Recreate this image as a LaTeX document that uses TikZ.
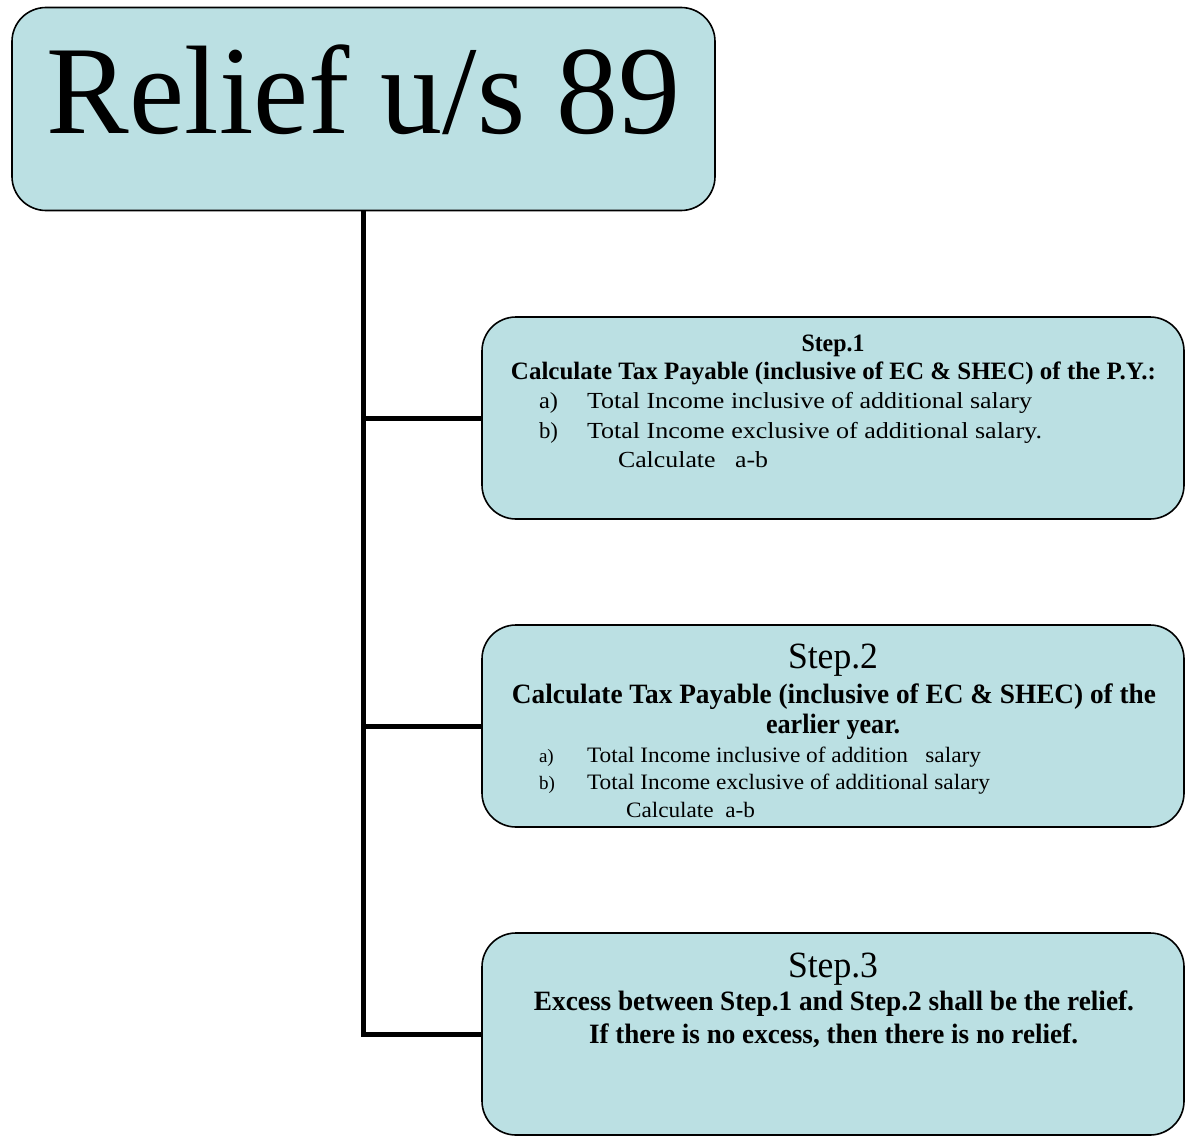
\documentclass[tikz,border=0pt]{standalone}
\usepackage{fontspec}
\setmainfont{Liberation Serif}
\usepackage{graphicx}
\usetikzlibrary{backgrounds}

\definecolor{boxfill}{RGB}{187,224,227}

\tikzset{
  panel/.style={draw=black, line width=1.6pt, fill=boxfill, rounded corners=34pt,
                inner sep=0pt, minimum width=702pt, minimum height=202pt},
  txt/.style={inner sep=0pt, outer sep=0pt, text=black},
  link/.style={draw=black, line width=5pt, line join=miter},
}

% set a line of text at a given width (in pt), keeping its height
\newcommand{\fitw}[2]{\resizebox{#1pt}{\height}{#2}}
\newcommand{\fs}[1]{\fontsize{#1}{#1}\selectfont}

\begin{document}
\begin{tikzpicture}[x=1pt,y=-1pt]
\useasboundingbox (0,0) rectangle (1186,1140);

% boxes
\node[panel, minimum width=703pt, minimum height=203pt] (title) at (363.5,109) {};
\node[panel] (s1) at (833,418) {};
\node[panel] (s2) at (833,726) {};
\node[panel] (s3) at (833,1034) {};

% tree connectors
\begin{scope}[on background layer]
  \draw[link] (title.south) |- (s3.west);
  \draw[link] (title.south |- s1.west) -- (s1.west);
  \draw[link] (title.south |- s2.west) -- (s2.west);
\end{scope}

% title
\node[txt, anchor=base] (titletext) at (363.5,133) {\fs{126}\fitw{633}{Relief u/s 89}};

% step 1
\node[txt, anchor=base] (s1head) at (833,351) {\fs{25}\bfseries\fitw{63}{Step.1}};
\node[txt, anchor=base] (s1line) at (833.5,379) {\fs{25}\bfseries\fitw{645}{Calculate Tax Payable (inclusive of EC \& SHEC) of the P.Y.:}};
\node[txt, anchor=base west] (s1am) at (539,408) {\fs{23}\fitw{19}{a)}};
\node[txt, anchor=base west] (s1a) at (587,408) {\fs{23}\fitw{445}{Total Income inclusive of additional salary}};
\node[txt, anchor=base west] (s1bm) at (539,438) {\fs{23}\fitw{19}{b)}};
\node[txt, anchor=base west] (s1b) at (587,438) {\fs{23}\fitw{455}{Total Income exclusive of additional salary.}};
\node[txt, anchor=base west] (s1c) at (618,467) {\fs{23}\fitw{150}{Calculate\ \ \ a-b}};

% step 2
\node[txt, anchor=base] (s2head) at (833,668) {\fs{37}\fitw{90}{Step.2}};
\node[txt, anchor=base] (s2line) at (834,703) {\fs{28}\bfseries\fitw{644}{Calculate Tax Payable (inclusive of EC \& SHEC) of the}};
\node[txt, anchor=base] (s2line2) at (833,733) {\fs{28}\bfseries\fitw{134}{earlier year.}};
\node[txt, anchor=base west] (s2am) at (539,762) {\fs{19}a)};
\node[txt, anchor=base west] (s2a) at (587,762) {\fs{22}\fitw{394}{Total Income inclusive of addition\ \ \ salary}};
\node[txt, anchor=base west] (s2bm) at (539,789) {\fs{19}b)};
\node[txt, anchor=base west] (s2b) at (587,789) {\fs{22}\fitw{403}{Total Income exclusive of additional salary}};
\node[txt, anchor=base west] (s2c) at (626,817) {\fs{22}\fitw{129}{Calculate\ \ a-b}};

% step 3
\node[txt, anchor=base] (s3head) at (833,977) {\fs{37}\fitw{90}{Step.3}};
\node[txt, anchor=base] (s3line) at (834,1010) {\fs{28}\bfseries\fitw{600}{Excess between Step.1 and Step.2 shall be the relief.}};
\node[txt, anchor=base] (s3line2) at (833.5,1043) {\fs{28}\bfseries\fitw{489}{If there is no excess, then there is no relief.}};
\end{tikzpicture}
\end{document}
